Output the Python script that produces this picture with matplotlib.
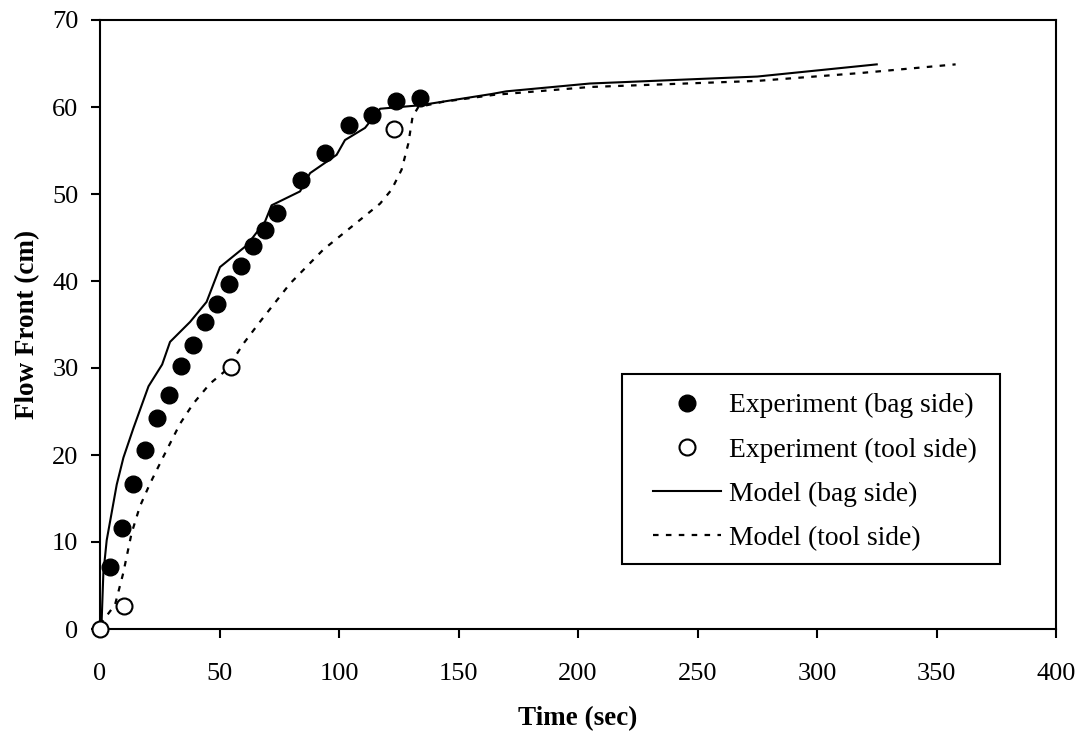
import matplotlib
matplotlib.use("Agg")
import matplotlib.pyplot as plt
from matplotlib.patches import Rectangle

plt.rcParams['font.family'] = ['Liberation Serif', 'DejaVu Serif']

# Experiment data
exp_bag_t = [4, 9, 14, 19, 24, 29, 34, 39, 44, 49, 54, 59, 64, 69, 74, 84, 94, 104, 114, 124, 134]
exp_bag_y = [7.1, 11.6, 16.7, 20.6, 24.2, 26.9, 30.2, 32.6, 35.3, 37.4, 39.7, 41.7, 44.0, 45.9,
             47.8, 51.6, 54.7, 57.9, 59.1, 60.7, 61.0]
exp_tool_t = [0, 10, 55, 123]
exp_tool_y = [0, 2.6, 30.1, 57.5]

# Model curves
model_bag_t = [0, 0.7, 1.4, 2.8, 7, 9.8, 14, 20.3, 26, 29.3, 37.7, 44.6, 50.2, 61.4, 69, 71.8,
               83.7, 87.9, 99, 102.5, 110.9, 117.2, 133.9, 164, 170, 205, 275, 325]
model_bag_y = [0, 1.0, 6.4, 10.2, 16.6, 19.7, 23.1, 27.9, 30.4, 33.0, 35.3, 37.6, 41.6, 44.1, 46.8,
               48.7, 50.3, 52.4, 54.5, 56.2, 57.6, 59.8, 60.2, 61.5, 61.8, 62.7, 63.5, 64.9]
model_tool_t = [0, 6.3, 9.7, 13.2, 16.7, 20.9, 26.5, 33.5, 39, 46, 53, 60, 66.9, 79.5, 93.4, 106,
                117.2, 122, 126.2, 129, 130.8, 133.2, 143.6, 165, 205, 275, 318, 358]
model_tool_y = [0.5, 2.8, 6.4, 11.0, 14.1, 16.7, 19.8, 23.6, 25.9, 28.2, 29.8, 32.8, 35.3, 39.7,
                43.6, 46.4, 48.9, 50.5, 52.8, 55.8, 58.9, 60.0, 60.6, 61.4, 62.3, 63.0, 63.9, 64.9]

fig = plt.figure(figsize=(10.84, 7.38), dpi=100)
ax = fig.add_axes([100 / 1084, 1 - 629 / 738, 956 / 1084, 609 / 738])

ax.plot(model_bag_t, model_bag_y, color='black', lw=1.5, label='Model (bag side)', zorder=2)
ax.plot(model_tool_t, model_tool_y, color='black', lw=1.6, dashes=(2.5, 3.3),
        label='Model (tool side)', zorder=2)
ax.plot(exp_bag_t, exp_bag_y, 'o', color='black', ms=12, label='Experiment (bag side)',
        zorder=4, clip_on=False)
ax.plot(exp_tool_t, exp_tool_y, 'o', mfc='white', mec='black', mew=1.5, ms=11.5,
        label='Experiment (tool side)', zorder=4, clip_on=False)

ax.set_xlim(0, 400)
ax.set_ylim(0, 70)
ax.set_xticks(range(0, 401, 50))
ax.set_yticks(range(0, 71, 10))

for s in ax.spines.values():
    s.set_linewidth(1.5)
ax.tick_params(direction='out', length=6.5, width=1.5, labelsize=19)
ax.tick_params(axis='x', pad=18)
ax.tick_params(axis='y', pad=9)

ax.set_xlabel('Time (sec)', fontsize=19.5, fontweight='bold')
ax.set_ylabel('Flow Front (cm)', fontsize=19.5, fontweight='bold')
ax.xaxis.set_label_coords(0.5, -0.126)
ax.yaxis.set_label_coords(-0.063, 0.5)

# legend box drawn separately (Excel style padding)
ax.add_patch(Rectangle((0.546, 0.1067), 0.3954, 0.312, transform=ax.transAxes,
                       facecolor='white', edgecolor='black', lw=1.5, zorder=5))
h, l = ax.get_legend_handles_labels()
order = [2, 3, 0, 1]
leg = ax.legend([h[i] for i in order], [l[i] for i in order], loc='upper left',
                bbox_to_anchor=(0.5638, 0.41), frameon=False, fontsize=19.8, borderpad=0,
                handlelength=2.5, handletextpad=0.26, labelspacing=0.69)
leg.set_zorder(6)

fig.savefig('out.png', dpi=100)
